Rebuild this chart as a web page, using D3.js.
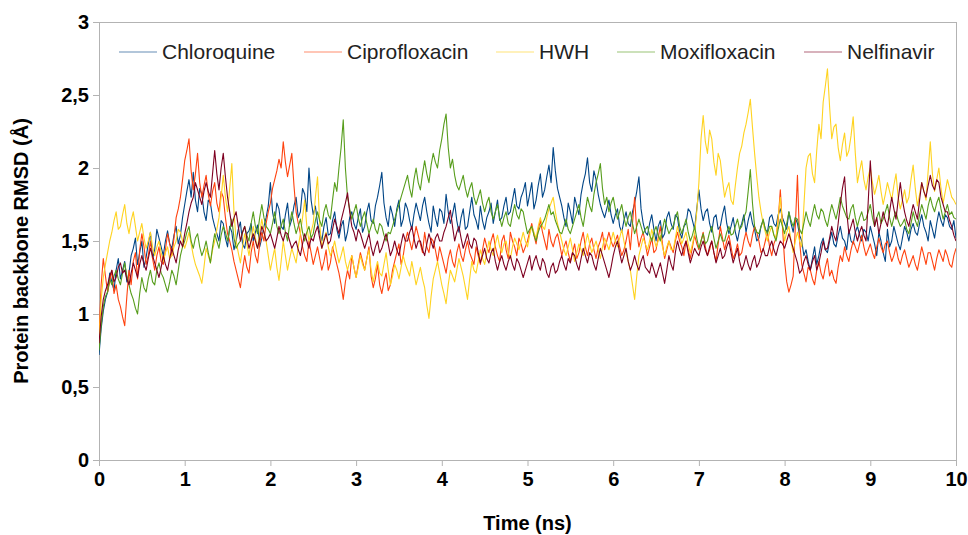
<!DOCTYPE html>
<html lang="en">
<head>
<meta charset="UTF-8">
<title>Protein backbone RMSD</title>
<script src="https://d3js.org/d3.v7.min.js"></script>
<style>
    body { margin: 0; background: #fff; }
    svg { display: block; font-family: "Liberation Sans", Arial, sans-serif; }
    .tick text { font-size: 20px; font-weight: bold; fill: #000; }
    .axis-title { font-size: 20px; font-weight: bold; fill: #000; }
    .legend text { font-size: 21px; fill: #222; }
</style>
</head>
<body>
<svg id="chart"></svg>
<script>
// RMSD sampled every 0.025 ns, 0..10 ns
const seriesNames = ["Chloroquine", "Ciprofloxacin", "HWH", "Moxifloxacin", "Nelfinavir"];
const seriesColors = ["#004586", "#ff420e", "#ffd320", "#579d1c", "#7e0021"];
const xTicks = [0, 1, 2, 3, 4, 5, 6, 7, 8, 9, 10];
const yTicks = [0, 0.5, 1, 1.5, 2, 2.5, 3];

const chloroquine = [
    0.72,0.9,1.02,1.1,1.15,1.28,1.22,1.16,1.3,1.38,1.24,1.3,1.36,1.22,1.28,1.4,1.45,1.52,1.34,1.42,1.5,1.32,1.39,1.48,1.56,1.38,1.44,1.58,1.52,1.46,1.4,1.5,1.57,1.48,1.45,1.54,1.6,1.48,1.54,1.66,
    1.75,1.84,1.92,1.8,1.97,1.78,1.7,1.86,1.82,1.7,1.64,1.78,1.76,1.66,1.6,1.55,1.5,1.64,1.62,1.52,1.46,1.6,1.56,1.44,1.5,1.58,1.63,1.48,1.45,1.55,1.57,1.62,1.5,1.56,1.61,1.46,1.52,1.6,1.66,1.74,
    1.9,1.7,1.62,1.76,1.72,1.6,1.58,1.68,1.76,1.6,1.65,1.74,1.8,1.66,1.7,1.86,1.82,1.7,2.0,1.78,1.68,1.74,1.62,1.56,1.5,1.6,1.66,1.54,1.55,1.64,1.7,1.58,1.52,1.6,1.64,1.5,1.56,1.66,1.7,1.62,
    1.58,1.66,1.72,1.56,1.6,1.7,1.76,1.64,1.62,1.74,1.8,1.88,1.97,1.76,1.66,1.6,1.74,1.68,1.6,1.72,1.78,1.6,1.65,1.76,1.72,1.64,1.58,1.68,1.76,1.7,1.64,1.74,1.8,1.7,1.62,1.56,1.74,1.66,1.6,1.72,
    1.7,1.62,1.82,1.7,1.62,1.68,1.76,1.64,1.56,1.66,1.72,1.58,1.6,1.7,1.8,1.68,1.64,1.58,1.74,1.64,1.58,1.66,1.7,1.76,1.62,1.7,1.78,1.64,1.66,1.74,1.8,1.68,1.7,1.78,1.86,1.74,1.72,1.8,1.84,1.9,
    1.74,1.82,1.9,1.72,1.78,1.88,1.96,1.8,1.85,1.94,2.02,1.9,2.14,1.98,1.86,1.8,1.74,1.66,1.6,1.76,1.7,1.62,1.8,1.74,1.68,1.82,1.9,1.96,2.07,1.9,1.84,1.98,1.92,1.82,1.75,1.7,1.66,1.72,1.78,1.68,
    1.62,1.68,1.72,1.6,1.56,1.64,1.7,1.62,1.6,1.7,1.76,1.84,1.94,1.72,1.62,1.56,1.54,1.62,1.68,1.58,1.5,1.6,1.64,1.52,1.55,1.66,1.7,1.62,1.58,1.68,1.66,1.56,1.52,1.6,1.62,1.72,1.7,1.64,1.58,1.72,
    1.85,1.72,1.64,1.7,1.72,1.62,1.56,1.66,1.68,1.58,1.6,1.68,1.74,1.62,1.55,1.6,1.66,1.56,1.5,1.58,1.62,1.68,1.56,1.64,1.7,1.62,1.58,1.5,1.52,1.6,1.64,1.58,1.56,1.66,1.68,1.62,1.6,1.68,1.72,1.66,
    1.62,1.58,1.7,1.62,1.56,1.66,1.62,1.54,1.5,1.4,1.44,1.36,1.3,1.38,1.46,1.34,1.4,1.48,1.52,1.44,1.42,1.5,1.56,1.48,1.46,1.54,1.6,1.52,1.5,1.44,1.58,1.5,1.48,1.56,1.6,1.54,1.5,1.58,1.56,1.5,
    1.6,1.54,1.48,1.4,1.56,1.5,1.42,1.36,1.58,1.46,1.5,1.6,1.54,1.48,1.44,1.52,1.6,1.56,1.5,1.58,1.62,1.56,1.54,1.62,1.68,1.6,1.56,1.5,1.64,1.58,1.52,1.62,1.7,1.64,1.6,1.68,1.66,1.6,1.58,1.64,
    1.52
];
const ciprofloxacin = [
    0.85,1.2,1.38,1.26,1.15,1.22,1.3,1.14,1.2,1.1,1.05,0.98,0.92,1.12,1.3,1.2,1.36,1.42,1.24,1.44,1.55,1.46,1.34,1.4,1.5,1.38,1.3,1.4,1.46,1.36,1.34,1.44,1.55,1.48,1.4,1.52,1.66,1.72,1.8,1.92,
    2.05,2.12,2.2,1.98,1.85,1.96,2.1,1.9,1.8,1.88,1.95,1.82,1.74,1.84,1.9,1.76,1.7,1.84,1.8,1.66,1.55,1.5,1.44,1.36,1.3,1.24,1.18,1.3,1.4,1.32,1.28,1.42,1.5,1.4,1.35,1.48,1.56,1.5,1.62,1.7,
    1.76,1.86,1.92,1.98,2.06,2.0,2.18,2.04,1.94,2.02,2.1,1.88,1.7,1.62,1.55,1.46,1.4,1.36,1.5,1.42,1.34,1.4,1.46,1.38,1.3,1.36,1.44,1.3,1.35,1.46,1.4,1.34,1.28,1.2,1.1,1.22,1.3,1.24,1.4,1.32,
    1.25,1.34,1.42,1.36,1.3,1.38,1.46,1.26,1.18,1.24,1.34,1.2,1.14,1.22,1.28,1.16,1.2,1.3,1.36,1.42,1.48,1.34,1.4,1.5,1.56,1.5,1.44,1.52,1.6,1.54,1.48,1.42,1.56,1.46,1.42,1.52,1.5,1.44,1.36,1.46,
    1.4,1.34,1.28,1.38,1.44,1.36,1.32,1.42,1.48,1.4,1.36,1.44,1.5,1.42,1.38,1.34,1.46,1.4,1.34,1.44,1.52,1.46,1.42,1.5,1.55,1.46,1.4,1.36,1.5,1.54,1.44,1.38,1.56,1.5,1.46,1.4,1.52,1.48,1.42,1.46,
    1.5,1.56,1.62,1.54,1.48,1.58,1.64,1.56,1.5,1.44,1.58,1.5,1.46,1.52,1.55,1.48,1.4,1.46,1.5,1.42,1.36,1.42,1.48,1.38,1.42,1.5,1.56,1.46,1.4,1.48,1.52,1.44,1.38,1.46,1.5,1.56,1.44,1.5,1.56,1.5,
    1.46,1.5,1.54,1.46,1.4,1.44,1.5,1.58,1.44,1.62,1.8,1.56,1.46,1.52,1.56,1.48,1.4,1.46,1.52,1.42,1.44,1.52,1.6,1.48,1.38,1.44,1.5,1.46,1.42,1.5,1.56,1.5,1.46,1.4,1.5,1.44,1.38,1.46,1.54,1.48,
    1.44,1.5,1.56,1.46,1.4,1.44,1.5,1.42,1.36,1.48,1.6,1.52,1.44,1.5,1.54,1.46,1.38,1.42,1.48,1.4,1.42,1.5,1.56,1.5,1.46,1.54,1.6,1.56,1.5,1.42,1.44,1.5,1.56,1.46,1.4,1.48,1.52,1.64,1.85,1.6,
    1.36,1.22,1.15,1.2,1.26,1.6,1.95,1.5,1.34,1.28,1.22,1.32,1.3,1.24,1.2,1.3,1.36,1.28,1.24,1.32,1.38,1.26,1.3,1.24,1.21,1.32,1.4,1.36,1.46,1.4,1.36,1.44,1.5,1.46,1.42,1.48,1.54,1.46,1.4,1.44,
    1.48,1.42,1.38,1.46,1.52,1.46,1.42,1.48,1.5,1.42,1.36,1.4,1.46,1.38,1.34,1.4,1.44,1.38,1.32,1.36,1.4,1.34,1.3,1.38,1.46,1.4,1.34,1.42,1.42,1.36,1.3,1.38,1.44,1.4,1.36,1.44,1.4,1.34,1.32,1.4,
    1.45
];
const hwh = [
    0.8,1.1,1.25,1.34,1.42,1.5,1.56,1.64,1.7,1.58,1.6,1.68,1.75,1.62,1.55,1.64,1.7,1.6,1.5,1.56,1.62,1.52,1.45,1.5,1.56,1.46,1.4,1.46,1.5,1.42,1.36,1.42,1.46,1.38,1.4,1.46,1.5,1.58,1.56,1.5,
    1.45,1.5,1.56,1.48,1.4,1.34,1.3,1.26,1.21,1.32,1.45,1.4,1.35,1.44,1.5,1.58,1.66,1.8,1.95,1.8,1.7,1.86,2.03,1.7,1.5,1.42,1.35,1.46,1.55,1.48,1.4,1.5,1.6,1.52,1.45,1.56,1.65,1.56,1.5,1.4,
    1.3,1.38,1.45,1.32,1.23,1.36,1.5,1.4,1.3,1.38,1.45,1.4,1.35,1.46,1.55,1.66,1.78,1.6,1.5,1.56,1.62,1.8,1.94,1.62,1.45,1.52,1.56,1.46,1.4,1.44,1.5,1.42,1.35,1.4,1.46,1.36,1.3,1.36,1.4,1.32,
    1.25,1.32,1.4,1.34,1.3,1.38,1.44,1.3,1.22,1.3,1.36,1.28,1.26,1.34,1.42,1.3,1.2,1.26,1.34,1.3,1.24,1.32,1.4,1.34,1.3,1.26,1.36,1.28,1.2,1.26,1.32,1.24,1.18,1.06,0.97,1.12,1.24,1.3,1.36,1.28,
    1.2,1.14,1.07,1.2,1.3,1.26,1.22,1.3,1.38,1.32,1.26,1.18,1.1,1.24,1.36,1.3,1.28,1.36,1.44,1.38,1.34,1.42,1.5,1.44,1.4,1.48,1.54,1.46,1.42,1.48,1.5,1.42,1.38,1.46,1.52,1.48,1.44,1.5,1.56,1.5,
    1.46,1.54,1.6,1.56,1.52,1.6,1.66,1.6,1.58,1.66,1.72,1.76,1.8,1.7,1.62,1.56,1.5,1.44,1.4,1.46,1.52,1.44,1.36,1.42,1.48,1.44,1.4,1.48,1.55,1.48,1.42,1.46,1.5,1.44,1.38,1.46,1.52,1.48,1.44,1.5,
    1.56,1.5,1.46,1.52,1.58,1.5,1.42,1.36,1.3,1.2,1.1,1.26,1.4,1.46,1.52,1.48,1.44,1.5,1.58,1.52,1.46,1.5,1.54,1.46,1.4,1.46,1.5,1.44,1.44,1.52,1.6,1.54,1.48,1.52,1.56,1.48,1.42,1.48,1.55,1.7,
    1.9,2.2,2.36,2.18,2.1,2.26,2.2,2.04,1.95,2.1,2.05,1.92,1.8,1.86,1.9,1.78,1.75,1.88,2.0,2.1,2.15,2.24,2.3,2.38,2.47,2.28,2.1,1.94,1.8,1.7,1.62,1.56,1.5,1.56,1.6,1.54,1.52,1.66,1.8,1.62,
    1.5,1.56,1.6,1.5,1.42,1.5,1.56,1.5,1.46,1.74,2.0,2.08,2.1,1.96,1.9,2.12,2.3,2.2,2.45,2.56,2.68,2.42,2.2,2.28,2.3,2.14,2.05,2.16,2.24,2.08,2.12,2.22,2.35,2.1,1.9,1.98,2.05,1.92,1.85,1.94,
    2.0,1.9,1.82,1.88,1.95,1.84,1.75,1.82,1.9,1.84,1.78,1.88,1.96,1.8,1.72,1.78,1.85,1.76,1.8,1.92,2.02,1.86,1.74,1.82,1.9,1.84,1.78,1.98,2.18,1.96,1.84,1.92,2.0,1.86,1.76,1.84,1.92,1.86,1.8,1.78,
    1.75
];
const moxifloxacin = [
    0.75,0.92,1.05,1.12,1.15,1.24,1.2,1.26,1.3,1.24,1.2,1.28,1.35,1.26,1.2,1.14,1.1,1.04,1.0,1.14,1.25,1.18,1.15,1.24,1.3,1.22,1.2,1.3,1.35,1.28,1.25,1.2,1.15,1.22,1.3,1.26,1.2,1.3,1.4,1.46,
    1.5,1.56,1.6,1.5,1.45,1.52,1.55,1.46,1.4,1.44,1.5,1.42,1.35,1.46,1.55,1.5,1.45,1.54,1.6,1.56,1.5,1.58,1.65,1.52,1.45,1.48,1.5,1.56,1.6,1.54,1.5,1.62,1.7,1.6,1.55,1.66,1.75,1.66,1.6,1.58,
    1.55,1.62,1.7,1.6,1.55,1.6,1.65,1.56,1.5,1.62,1.7,1.62,1.55,1.6,1.65,1.56,1.5,1.56,1.6,1.52,1.55,1.64,1.7,1.64,1.6,1.7,1.75,1.68,1.65,1.78,1.9,1.84,2.0,2.14,2.33,2.0,1.8,1.72,1.65,1.7,
    1.75,1.66,1.6,1.66,1.7,1.62,1.55,1.6,1.65,1.58,1.55,1.62,1.6,1.54,1.5,1.56,1.55,1.6,1.65,1.7,1.75,1.8,1.85,1.9,1.95,1.86,1.8,1.92,2.0,1.9,1.85,1.96,2.05,1.96,1.9,2.02,2.1,2.04,2.0,2.12,
    2.2,2.3,2.37,2.14,2.0,2.06,1.95,1.88,1.85,1.9,1.95,1.86,1.8,1.86,1.9,1.8,1.75,1.8,1.85,1.76,1.7,1.76,1.8,1.7,1.65,1.7,1.75,1.66,1.6,1.66,1.7,1.62,1.6,1.68,1.75,1.68,1.65,1.72,1.7,1.62,
    1.55,1.58,1.6,1.54,1.5,1.56,1.6,1.62,1.65,1.7,1.75,1.68,1.7,1.64,1.6,1.56,1.55,1.6,1.65,1.58,1.55,1.6,1.65,1.7,1.75,1.66,1.6,1.7,1.8,1.74,1.7,1.82,1.9,1.96,2.03,1.86,1.75,1.8,1.7,1.76,
    1.8,1.72,1.65,1.7,1.75,1.66,1.6,1.66,1.7,1.62,1.55,1.6,1.65,1.6,1.55,1.58,1.6,1.54,1.5,1.56,1.6,1.54,1.5,1.58,1.65,1.6,1.55,1.58,1.6,1.66,1.7,1.6,1.55,1.6,1.65,1.56,1.5,1.54,1.6,1.52,
    1.45,1.5,1.55,1.48,1.5,1.56,1.6,1.52,1.45,1.5,1.55,1.5,1.5,1.56,1.6,1.54,1.55,1.6,1.65,1.58,1.6,1.66,1.7,1.84,1.99,1.76,1.6,1.56,1.55,1.6,1.65,1.58,1.55,1.6,1.6,1.54,1.5,1.58,1.65,1.6,
    1.55,1.62,1.7,1.64,1.6,1.66,1.65,1.58,1.55,1.62,1.7,1.64,1.6,1.68,1.75,1.68,1.65,1.72,1.7,1.64,1.6,1.68,1.75,1.7,1.65,1.72,1.8,1.74,1.7,1.66,1.65,1.72,1.75,1.66,1.6,1.66,1.7,1.64,1.65,1.7,
    1.75,1.66,1.6,1.66,1.7,1.62,1.65,1.7,1.75,1.66,1.6,1.66,1.7,1.64,1.6,1.62,1.65,1.58,1.55,1.62,1.7,1.64,1.6,1.68,1.75,1.7,1.65,1.74,1.8,1.74,1.7,1.76,1.8,1.72,1.65,1.7,1.75,1.68,1.7,1.66,
    1.65
];
const nelfinavir = [
    0.8,0.98,1.1,1.16,1.2,1.26,1.3,1.22,1.25,1.32,1.35,1.28,1.3,1.24,1.2,1.28,1.35,1.3,1.25,1.34,1.4,1.34,1.3,1.38,1.45,1.4,1.35,1.3,1.25,1.32,1.4,1.34,1.3,1.38,1.45,1.4,1.35,1.44,1.5,1.46,
    1.55,1.62,1.7,1.76,1.8,1.9,1.85,1.8,1.75,1.84,1.9,1.84,1.8,1.96,2.12,1.96,1.85,2.0,2.1,1.94,1.8,1.7,1.6,1.66,1.7,1.6,1.5,1.56,1.6,1.52,1.45,1.5,1.55,1.5,1.45,1.52,1.6,1.56,1.5,1.52,
    1.55,1.5,1.45,1.52,1.6,1.54,1.5,1.56,1.55,1.5,1.45,1.48,1.5,1.44,1.4,1.48,1.55,1.5,1.45,1.52,1.5,1.56,1.6,1.52,1.45,1.5,1.55,1.48,1.5,1.58,1.65,1.6,1.55,1.64,1.7,1.76,1.83,1.7,1.6,1.56,
    1.5,1.58,1.55,1.5,1.45,1.5,1.55,1.46,1.4,1.46,1.5,1.42,1.45,1.5,1.55,1.48,1.4,1.44,1.5,1.44,1.4,1.48,1.55,1.5,1.5,1.56,1.6,1.52,1.45,1.5,1.5,1.44,1.4,1.48,1.55,1.5,1.45,1.52,1.55,1.5,
    1.5,1.56,1.6,1.66,1.71,1.6,1.5,1.56,1.6,1.52,1.45,1.5,1.55,1.48,1.45,1.52,1.5,1.42,1.35,1.4,1.45,1.38,1.35,1.42,1.45,1.36,1.3,1.36,1.4,1.34,1.3,1.36,1.4,1.34,1.3,1.38,1.35,1.3,1.25,1.3,
    1.35,1.4,1.3,1.36,1.4,1.34,1.3,1.38,1.35,1.28,1.25,1.32,1.35,1.28,1.3,1.36,1.4,1.34,1.3,1.38,1.35,1.42,1.4,1.34,1.3,1.38,1.45,1.4,1.35,1.42,1.4,1.34,1.3,1.38,1.45,1.4,1.35,1.3,1.25,1.32,
    1.4,1.46,1.5,1.42,1.35,1.4,1.45,1.36,1.3,1.34,1.4,1.34,1.3,1.36,1.4,1.32,1.3,1.28,1.35,1.3,1.25,1.3,1.35,1.28,1.21,1.3,1.4,1.34,1.3,1.42,1.5,1.44,1.4,1.46,1.5,1.42,1.35,1.4,1.45,1.42,
    1.4,1.46,1.5,1.44,1.4,1.46,1.5,1.42,1.35,1.4,1.45,1.38,1.4,1.46,1.5,1.42,1.35,1.4,1.45,1.36,1.3,1.34,1.4,1.34,1.3,1.36,1.4,1.32,1.35,1.4,1.45,1.4,1.4,1.46,1.5,1.44,1.4,1.46,1.5,1.48,
    1.45,1.5,1.55,1.5,1.45,1.4,1.35,1.28,1.3,1.36,1.4,1.34,1.3,1.36,1.4,1.3,1.35,1.42,1.5,1.44,1.45,1.52,1.6,1.54,1.5,1.62,1.75,1.86,1.94,1.7,1.55,1.6,1.65,1.56,1.5,1.56,1.6,1.54,1.5,1.76,
    2.05,1.8,1.6,1.66,1.55,1.62,1.7,1.64,1.6,1.7,1.8,1.72,1.65,1.78,1.9,1.78,1.7,1.64,1.6,1.68,1.75,1.7,1.65,1.78,1.9,1.84,1.8,1.88,1.95,1.88,1.85,1.92,1.9,1.8,1.75,1.7,1.7,1.64,1.6,1.54,
    1.5
];
const seriesValues = [chloroquine, ciprofloxacin, hwh, moxifloxacin, nelfinavir];
const timeStep = 0.025;

const width = 968, height = 535;
const margin = { top: 22, right: 12, bottom: 75, left: 99 };
const innerW = width - margin.left - margin.right;
const innerH = height - margin.top - margin.bottom;

const svg = d3.select("#chart").attr("width", width).attr("height", height);
const g = svg.append("g").attr("transform", `translate(${margin.left},${margin.top})`);

const x = d3.scaleLinear().domain([0, 10]).range([0, innerW]);
const y = d3.scaleLinear().domain([0, 3]).range([innerH, 0]);

const comma = d3.formatLocale({ decimal: ",", thousands: ".", grouping: [3], currency: ["", ""] });

// frame
g.append("rect")
    .attr("x", 0.5).attr("y", 0.5)
    .attr("width", innerW).attr("height", innerH)
    .attr("fill", "none").attr("stroke", "#b3b3b3");

const yAxis = g.append("g")
    .call(d3.axisLeft(y).tickValues(yTicks).tickSize(6).tickPadding(4).tickFormat(comma.format(".1~f")));
yAxis.select(".domain").remove();
yAxis.selectAll(".tick line").attr("stroke", "#b3b3b3");

const xAxis = g.append("g")
    .attr("transform", `translate(0,${innerH})`)
    .call(d3.axisBottom(x).tickValues(xTicks).tickSize(6).tickPadding(6));
xAxis.select(".domain").attr("stroke", "#b3b3b3");
xAxis.selectAll(".tick line").attr("stroke", "#b3b3b3");

const line = d3.line()
    .x((d, i) => x(i * timeStep))
    .y(d => y(d));

svg.append("clipPath").attr("id", "plotclip")
    .append("rect").attr("width", innerW).attr("height", innerH);

g.append("g").attr("clip-path", "url(#plotclip)")
    .selectAll("path.series")
    .data(seriesValues)
    .join("path")
    .attr("class", "series")
    .attr("d", line)
    .attr("fill", "none")
    .attr("stroke", (d, i) => seriesColors[i])
    .attr("stroke-width", 1.1)
    .attr("stroke-linejoin", "round");

// legend
const legendX = [20, 205, 397, 518, 705];
const legend = g.append("g").attr("class", "legend").attr("transform", "translate(0,30)");
const item = legend.selectAll("g").data(seriesNames).join("g")
    .attr("transform", (d, i) => `translate(${legendX[i]},0)`);
item.append("line")
    .attr("x1", 0).attr("x2", 38)
    .attr("stroke", (d, i) => seriesColors[i])
    .attr("stroke-opacity", 0.6)
    .attr("stroke-width", 1.2);
item.append("text")
    .attr("x", 43).attr("dy", "0.35em")
    .text(d => d);

// axis titles
svg.append("text").attr("class", "axis-title")
    .attr("x", margin.left + innerW / 2).attr("y", 530)
    .attr("text-anchor", "middle")
    .text("Time (ns)");
svg.append("text").attr("class", "axis-title")
    .attr("transform", `translate(28,${margin.top + innerH / 2 + 10}) rotate(-90)`)
    .attr("text-anchor", "middle")
    .text("Protein backbone RMSD (Å)");
</script>
</body>
</html>
